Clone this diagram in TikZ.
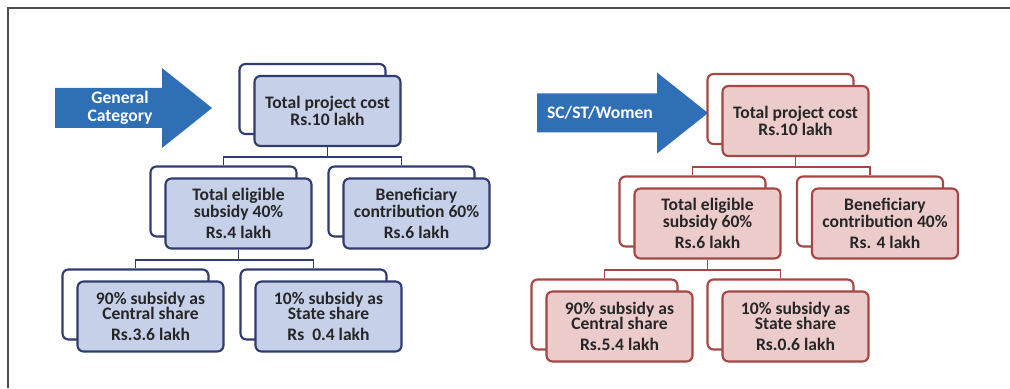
\documentclass[tikz,border=0pt]{standalone}
\usepackage{fontspec}
\setmainfont{Carlito}

\definecolor{arrowblue}{RGB}{47,111,181}
\definecolor{genline}{RGB}{48,60,112}
\definecolor{genfill}{RGB}{198,209,233}
\definecolor{resline}{RGB}{163,70,68}
\definecolor{resfill}{RGB}{236,203,203}

\begin{document}
\begin{tikzpicture}[
  card/.style={rounded corners=0.12cm, line width=1.2pt, minimum width=2.92cm, minimum height=1.4cm,
    align=center, text=black!85, font=\bfseries\fontsize{10}{8.6}\selectfont},
  genback/.style={card, draw=genline, fill=white},
  genfront/.style={card, draw=genline, fill=genfill},
  resback/.style={card, draw=resline, fill=white},
  resfront/.style={card, draw=resline, fill=resfill},
  genlink/.style={draw=genline, line width=0.8pt},
  reslink/.style={draw=resline, line width=0.8pt},
  arrowtext/.style={text=white, align=center, font=\bfseries\fontsize{10}{10.5}\selectfont}
]

  \useasboundingbox (0,0) rectangle (20.2,7.76);

  % Frame
  \draw[line width=0.8pt, black!70] (0.16,0) -- (0.16,7.6) -- (20.2,7.6);

  % Category arrows
  \fill[arrowblue] (1.10,5.2) -- (3.24,5.2) -- (3.24,4.8) -- (4.24,5.6) -- (3.24,6.4) -- (3.24,6.0) -- (1.10,6.0) -- cycle;
  \node[arrowtext] (gencat) at (2.4,5.6) {General\\Category};

  \fill[arrowblue] (10.74,5.11) -- (13.14,5.11) -- (13.14,4.69) -- (14.16,5.5) -- (13.14,6.31) -- (13.14,5.89) -- (10.74,5.89) -- cycle;
  \node[arrowtext] (scstw) at (12.0,5.5) {SC/ST/Women};

  % General category boxes
  \node[genback] (gtop-b) at (6.25,5.78) {};
  \node[genfront] (gtop) at ([shift={(0.3,-0.24)}]gtop-b) {Total project cost\\Rs.10 lakh};

  \node[genback] (gelig-b) at (4.47,3.73) {};
  \node[genfront] (gelig) at ([shift={(0.3,-0.24)}]gelig-b) {Total eligible\\subsidy 40\%\\[3.5pt]Rs.4 lakh};

  \node[genback] (gbenef-b) at (8.03,3.73) {};
  \node[genfront] (gbenef) at ([shift={(0.3,-0.24)}]gbenef-b) {Beneficiary\\contribution 60\%\\[3.5pt]Rs.6 lakh};

  \node[genback] (gcent-b) at (2.71,1.67) {};
  \node[genfront] (gcent) at ([shift={(0.3,-0.24)}]gcent-b) {90\% subsidy as\\Central share\\[3.5pt]Rs.3.6 lakh};

  \node[genback] (gstate-b) at (6.27,1.67) {};
  \node[genfront] (gstate) at ([shift={(0.3,-0.24)}]gstate-b) {10\% subsidy as\\State share\\[3.5pt]Rs\ \ 0.4 lakh};

  % SC/ST/Women boxes
  \node[resback] (rtop-b) at (15.61,5.58) {};
  \node[resfront] (rtop) at ([shift={(0.3,-0.24)}]rtop-b) {Total project cost\\Rs.10 lakh};

  \node[resback] (relig-b) at (13.85,3.53) {};
  \node[resfront] (relig) at ([shift={(0.3,-0.24)}]relig-b) {Total eligible\\subsidy 60\%\\[3.5pt]Rs.6 lakh};

  \node[resback] (rbenef-b) at (17.40,3.53) {};
  \node[resfront] (rbenef) at ([shift={(0.3,-0.24)}]rbenef-b) {Beneficiary\\contribution 40\%\\[3.5pt]Rs. 4 lakh};

  \node[resback] (rcent-b) at (12.09,1.47) {};
  \node[resfront] (rcent) at ([shift={(0.3,-0.24)}]rcent-b) {90\% subsidy as\\Central share\\[3.5pt]Rs.5.4 lakh};

  \node[resback] (rstate-b) at (15.61,1.47) {};
  \node[resfront] (rstate) at ([shift={(0.3,-0.24)}]rstate-b) {10\% subsidy as\\State share\\[3.5pt]Rs.0.6 lakh};

  % Tree connectors
  \coordinate (gtop-j) at ([yshift=-0.2cm]gtop.south);
  \draw[genlink] (gtop.south) -- (gtop-j);
  \draw[genlink] (gelig-b.north) |- (gtop-j) -| (gbenef-b.north);

  \coordinate (gelig-j) at ([yshift=-0.21cm]gelig.south);
  \draw[genlink] (gelig.south) -- (gelig-j);
  \draw[genlink] (gcent-b.north) |- (gelig-j) -| (gstate-b.north);

  \coordinate (rtop-j) at ([yshift=-0.2cm]rtop.south);
  \draw[reslink] (rtop.south) -- (rtop-j);
  \draw[reslink] (relig-b.north) |- (rtop-j) -| (rbenef-b.north);

  \coordinate (relig-j) at ([yshift=-0.21cm]relig.south);
  \draw[reslink] (relig.south) -- (relig-j);
  \draw[reslink] (rcent-b.north) |- (relig-j) -| (rstate-b.north);

\end{tikzpicture}
\end{document}
